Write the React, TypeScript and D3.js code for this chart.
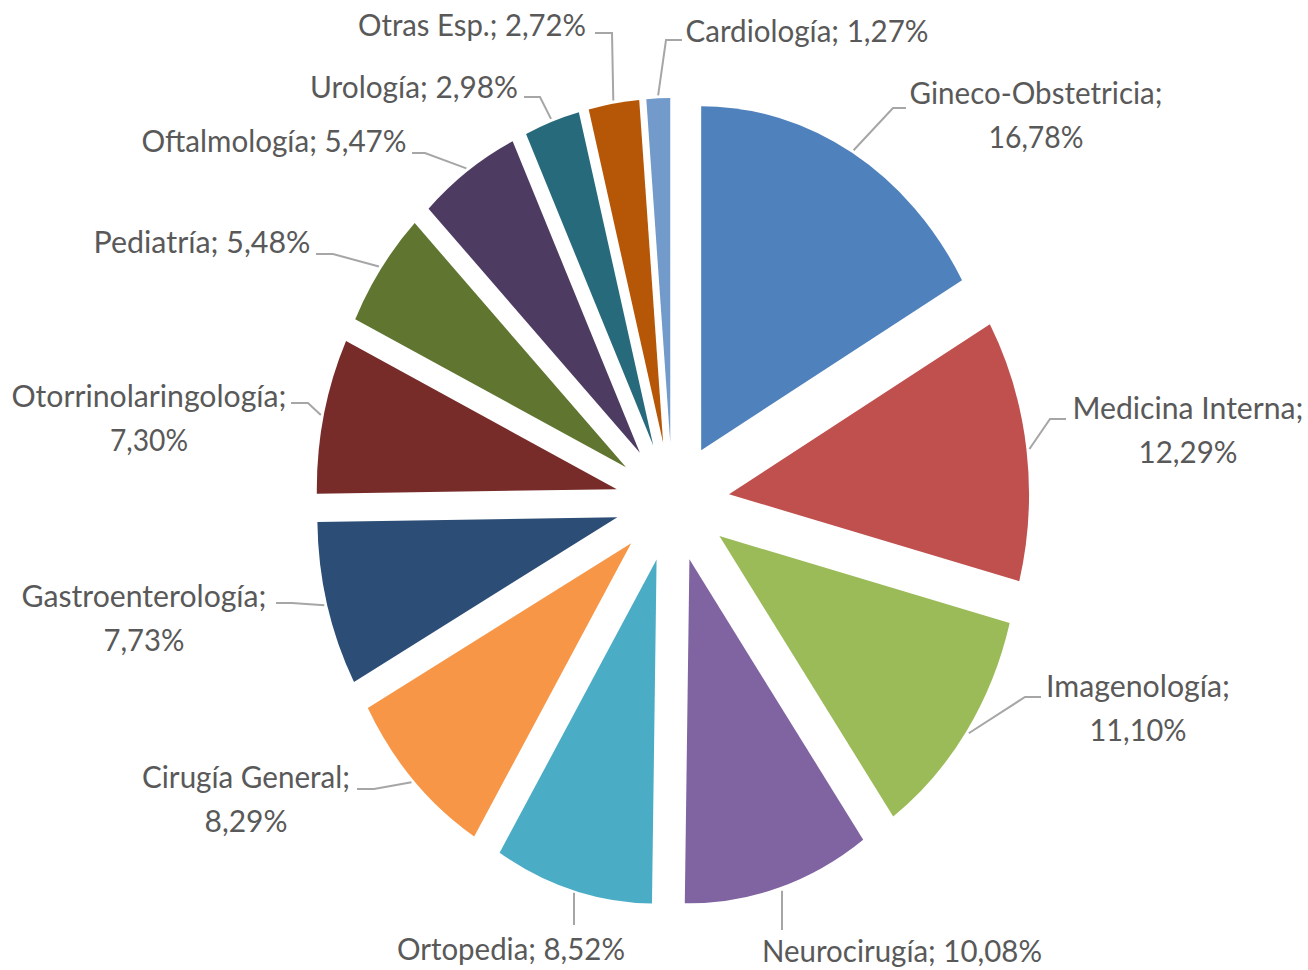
import React from "react";
import * as d3 from "d3";

// ---- data ----
const categories = [
  "Gineco-Obstetricia",
  "Medicina Interna",
  "Imagenología",
  "Neurocirugía",
  "Ortopedia",
  "Cirugía General",
  "Gastroenterología",
  "Otorrinolaringología",
  "Pediatría",
  "Oftalmología",
  "Urología",
  "Otras Esp.",
  "Cardiología",
];
const values = [16.78, 12.29, 11.1, 10.08, 8.52, 8.29, 7.73, 7.3, 5.48, 5.47, 2.98, 2.72, 1.27];
const colors = [
  "#4F81BD",
  "#C0504D",
  "#9BBB59",
  "#8064A2",
  "#4BACC6",
  "#F79646",
  "#2C4D75",
  "#772C2A",
  "#5F7530",
  "#4D3B62",
  "#276A7C",
  "#B65708",
  "#729ACA",
];

// ---- label layout (text centre x, first baseline y, two lines?, leader elbow/end, text widths) ----
const labelLayout = [
  { x: 1036, y: 104, two: true, elbow: [893, 108], end: [906, 108], w: [253, 95] },
  { x: 1188, y: 419, two: true, elbow: [1050, 419], end: [1066, 419], w: [231, 99] },
  { x: 1138, y: 697, two: true, elbow: [1025, 697], end: [1041, 697], w: [184, 97] },
  { x: 902, y: 962, two: false, elbow: null, end: [782, 930], w: [280] },
  { x: 511, y: 960, two: false, elbow: null, end: [574, 925], w: [228] },
  { x: 246, y: 788, two: true, elbow: [374, 789], end: [357, 789], w: [208, 83] },
  { x: 144, y: 607, two: true, elbow: [292, 603], end: [276, 603], w: [245, 81] },
  { x: 149, y: 407, two: true, elbow: [308, 403], end: [291, 403], w: [275, 78] },
  { x: 202, y: 253, two: false, elbow: [333, 254], end: [316, 254], w: [217] },
  { x: 274, y: 152, two: false, elbow: [425, 153], end: [412, 153], w: [265] },
  { x: 414, y: 98, two: false, elbow: [540, 97], end: [524, 97], w: [208] },
  { x: 472, y: 36, two: false, elbow: [612, 33], end: [595, 33], w: [228] },
  { x: 807, y: 42, two: false, elbow: [666, 40], end: [682, 40], w: [243] },
];

const W = 1308;
const H = 970;
const CX = 672.5;
const CY = 502;
const RX = 300;
const RY = 344;
const EX = 57;
const EY = 60;
const LINE_H = 44;

const fmt = (v: number) => v.toFixed(2).replace(".", ",") + "%";

export default function App() {
  const pie = d3
    .pie<number>()
    .sort(null)
    .value((d) => d);
  const arcs = pie(values);
  const arcGen = d3.arc<any>().innerRadius(0).outerRadius(RX);

  return (
    <svg
      width={W}
      height={H}
      viewBox={`0 0 ${W} ${H}`}
      style={{ position: "absolute", left: 0, top: 0, background: "#fff" }}
    >
      <rect x={0} y={0} width={W} height={H} fill="#fff" />
      {arcs.map((a, i) => {
        const mid = (a.startAngle + a.endAngle) / 2;
        const ox = CX + Math.sin(mid) * EX;
        const oy = CY - Math.cos(mid) * EY;
        return (
          <path
            key={"s" + i}
            d={arcGen(a) || ""}
            fill={colors[i]}
            transform={`translate(${ox},${oy}) scale(1,${RY / RX})`}
          />
        );
      })}
      {arcs.map((a, i) => {
        const mid = (a.startAngle + a.endAngle) / 2;
        const ox = CX + Math.sin(mid) * EX;
        const oy = CY - Math.cos(mid) * EY;
        const sx = ox + Math.sin(mid) * (RX + 3);
        const sy = oy - Math.cos(mid) * (RY + 3);
        const L = labelLayout[i];
        const pts: [number, number][] = [[sx, sy]];
        if (L.elbow) pts.push(L.elbow as [number, number]);
        else pts[0] = [L.end[0], sy];
        pts.push(L.end as [number, number]);
        const line = d3.line()(pts) || "";
        const name = categories[i] + ";";
        const pct = fmt(values[i]);
        return (
          <g key={"l" + i}>
            <path d={line} fill="none" stroke="#A6A6A6" strokeWidth={2} />
            {L.two ? (
              <>
                <text
                  x={L.x}
                  y={L.y}
                  textAnchor="middle"
                  fontFamily="Lato, 'Open Sans', sans-serif"
                  fontSize={30}
                  fill="#595959"
                  textLength={L.w[0]}
                  lengthAdjust="spacingAndGlyphs"
                >
                  {name}
                </text>
                <text
                  x={L.x}
                  y={L.y + LINE_H}
                  textAnchor="middle"
                  fontFamily="Lato, 'Open Sans', sans-serif"
                  fontSize={30}
                  fill="#595959"
                  textLength={L.w[1]}
                  lengthAdjust="spacingAndGlyphs"
                >
                  {pct}
                </text>
              </>
            ) : (
              <text
                x={L.x}
                y={L.y}
                textAnchor="middle"
                fontFamily="Lato, 'Open Sans', sans-serif"
                fontSize={30}
                fill="#595959"
                textLength={L.w[0]}
                lengthAdjust="spacingAndGlyphs"
              >
                {name + " " + pct}
              </text>
            )}
          </g>
        );
      })}
    </svg>
  );
}
